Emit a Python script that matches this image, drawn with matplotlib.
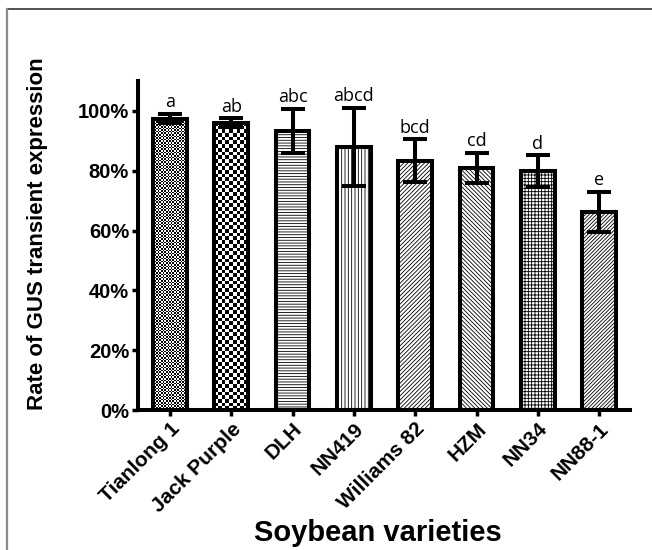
import numpy as np
import matplotlib
matplotlib.use("Agg")
import matplotlib.pyplot as plt
from matplotlib.lines import Line2D

# Transient GUS expression rate per soybean variety (mean and SD, %)
varieties = ["Tianlong 1", "Jack Purple", "DLH", "NN419",
             "Williams 82", "HZM", "NN34", "NN88-1"]
rate_mean = [97.4, 96.0, 93.2, 87.9, 83.3, 80.9, 79.8, 66.2]
rate_sd = [1.6, 1.5, 7.4, 13.0, 7.2, 5.0, 5.3, 6.8]
groups = ["a", "ab", "abc", "abcd", "bcd", "cd", "d", "e"]
y_ticks = [0, 20, 40, 60, 80, 100]

fills = [("checker", 1.6), ("checker", 3.7), ("hatch", "------"),
         ("hatch", "|||||"), ("hatch", "////////"), ("hatch", "\\" * 8),
         ("hatch", "+++++"), ("hatch", "/" * 9)]

plt.rcParams["hatch.linewidth"] = 0.6

fig = plt.figure(figsize=(6.52, 5.5), dpi=100)
ax = fig.add_axes([0.2117, 0.2545, 0.7543, 0.5982])

x = np.arange(len(varieties))
ax.set_xlim(-0.52, 7.5)
ax.set_ylim(0, 110)

bars = ax.bar(x, rate_mean, width=0.55, facecolor="white",
              edgecolor="black", linewidth=2.9, zorder=2)

for bar, (kind, spec) in zip(bars, fills):
    if kind == "hatch":
        bar.set_hatch(spec)
    else:
        bar.set_facecolor("none")
        x0, y0 = bar.get_x(), bar.get_y()
        x1, y1 = x0 + bar.get_width(), y0 + bar.get_height()
        (px0, py0), (px1, py1) = ax.transData.transform([(x0, y0), (x1, y1)])
        nx = max(1, int(round((px1 - px0) / spec)))
        ny = max(1, int(round((py1 - py0) / spec)))
        board = (np.add.outer(np.arange(ny), np.arange(nx)) % 2).astype(float)
        im = ax.imshow(board, cmap="gray", vmin=0, vmax=1,
                       extent=(x0, x1, y0, y1), aspect="auto",
                       interpolation="nearest", zorder=1)
        im.set_clip_path(bar)

ax.set_xlim(-0.52, 7.5)
ax.set_ylim(0, 110)

ax.errorbar(x, rate_mean, yerr=rate_sd, fmt="none", ecolor="black",
            elinewidth=2.9, capsize=8.5, capthick=2.9, zorder=3)

for xi, m, s, g in zip(x, rate_mean, rate_sd, groups):
    ax.annotate(g, (xi, m + s), xytext=(0, 2.0), textcoords="offset points",
                ha="center", va="bottom", fontsize=13, family="Open Sans")

for side in ("top", "right"):
    ax.spines[side].set_visible(False)
for side in ("left", "bottom"):
    ax.spines[side].set_linewidth(2.9)

ax.set_yticks(y_ticks)
ax.set_yticklabels([f"{v}%" for v in y_ticks], fontsize=14.5,
                   fontweight="bold", family="Liberation Sans")
ax.set_xticks(x)
ax.set_xticklabels(varieties, rotation=45, ha="right", va="top",
                   rotation_mode="anchor", fontsize=15, fontweight="bold",
                   family="Liberation Sans")
ax.tick_params(axis="both", direction="out", length=4.5, width=2.5, pad=2)

fig.text(0.058, 0.576, "Rate of GUS transient expression", rotation=90,
         ha="center", va="center", fontsize=16, fontweight="bold",
         family="Liberation Sans")
fig.text(0.58, 0.031, "Soybean varieties", ha="center", va="center",
         fontsize=21, fontweight="bold", family="Liberation Sans")

# Frame lines around the figure panel
fig.add_artist(Line2D([0.0107, 1.0], [0.9836, 0.9836], color="#222222",
                      linewidth=1.1, transform=fig.transFigure))
fig.add_artist(Line2D([0.0107, 0.0107], [0.0, 0.9836], color="#8a8a8a",
                      linewidth=1.6, transform=fig.transFigure))

fig.savefig("out.png", dpi=100)
